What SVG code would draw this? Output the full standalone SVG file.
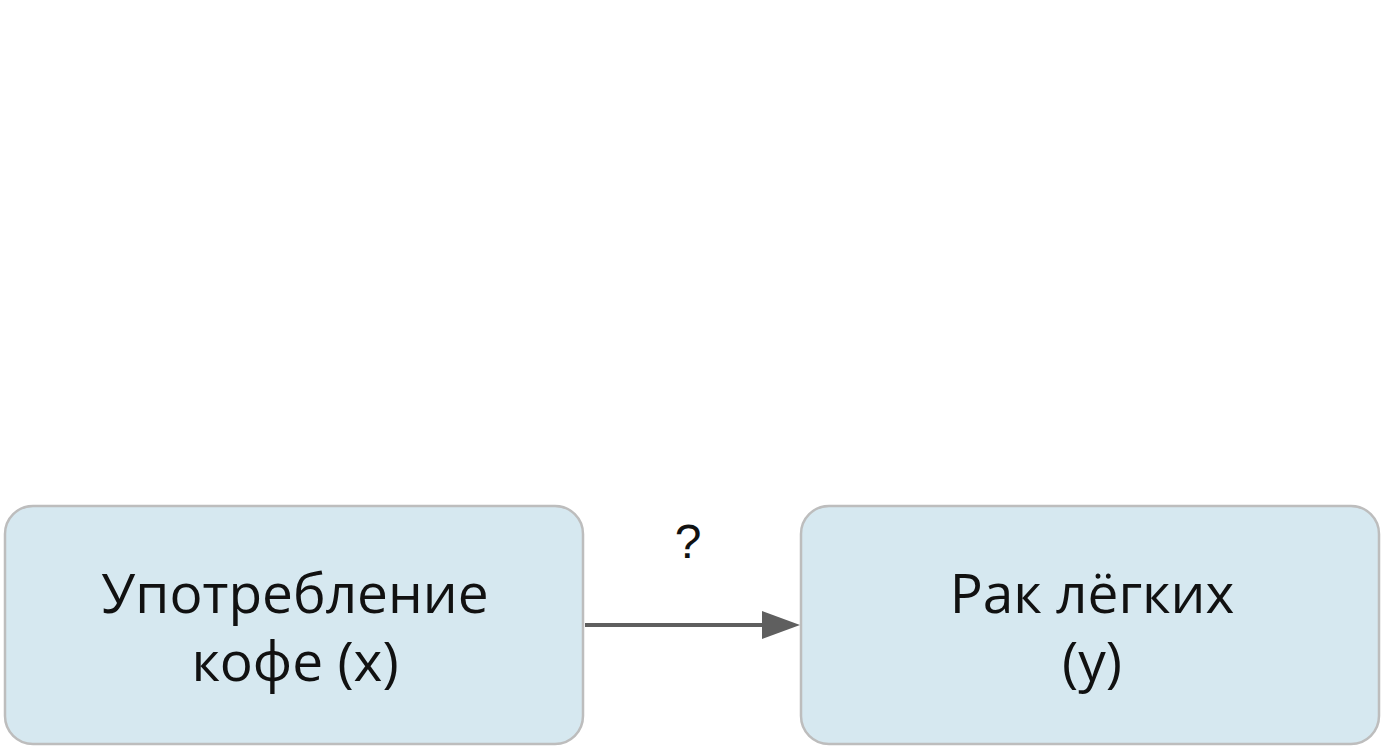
<svg xmlns="http://www.w3.org/2000/svg" width="1382" height="752" viewBox="0 0 1382 752">
<style>
.box{fill:#d6e8f0;stroke:#bdbdbd;stroke-width:2.5}
.t{font-family:"Open Sans","DejaVu Sans",sans-serif;font-size:55px;fill:#111;text-anchor:middle}
</style>
<rect width="1382" height="752" fill="#fff"/>
<g id="n1"><rect class="box" x="5" y="506" width="578" height="238" rx="28"/>
<text class="t" x="295" y="613">Употребление</text><text class="t" x="295" y="681">кофе (x)</text></g>
<g id="n2"><rect class="box" x="801" y="506" width="578" height="238" rx="28"/>
<text class="t" x="1092" y="613">Рак лёгких</text><text class="t" x="1092" y="681">(y)</text></g>
<g id="edges"><line x1="585" y1="625" x2="770" y2="625" stroke="#5f5f5f" stroke-width="4"/>
<path d="M762,611L800,625L762,639z" fill="#5f5f5f"/>
<text x="688" y="558" style="font-family:'Liberation Sans',sans-serif;font-size:48px;fill:#111;text-anchor:middle">?</text></g>
</svg>
